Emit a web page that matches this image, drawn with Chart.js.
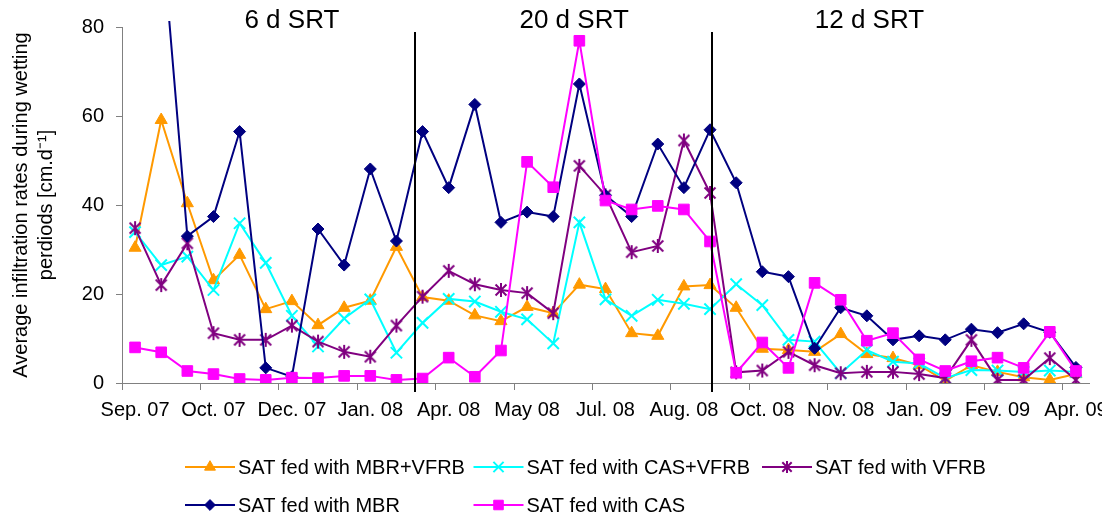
<!DOCTYPE html>
<html>
<head>
<meta charset="utf-8">
<script src="https://cdn.jsdelivr.net/npm/chart.js"></script>
<style>
  html, body { margin: 0; padding: 0; background: #ffffff; overflow: hidden; }
  #wrap { width: 1102px; height: 515px; }
</style>
</head>
<body>
<div id="wrap"><canvas id="c" width="1102" height="515"></canvas></div>
<script>
// Sampling campaigns (37 wetting periods, Sep. 2007 - Apr. 2009)
const samples = [1, 2, 3, 4, 5, 6, 7, 8, 9, 10, 11, 12, 13, 14, 15, 16, 17, 18, 19,
                 20, 21, 22, 23, 24, 25, 26, 27, 28, 29, 30, 31, 32, 33, 34, 35, 36, 37];

// Month labels, one every third campaign
const tickLabels = ['Sep. 07', 'Oct. 07', 'Dec. 07', 'Jan. 08', 'Apr. 08', 'May 08', 'Jul. 08',
                    'Aug. 08', 'Oct. 08', 'Nov. 08', 'Jan. 09', 'Fev. 09', 'Apr. 09'];

// Average infiltration rates [cm/d]
const satMbrVfrb = [30.4, 59.1, 40.4, 23.1, 28.8, 16.6, 18.4, 13.0, 16.9, 18.5, 30.6, 19.3, 18.5,
                    15.2, 13.9, 17.1, 15.7, 22.1, 21.1, 11.2, 10.6, 21.7, 22.0, 16.9, 7.7, 7.4,
                    7.0, 11.0, 6.5, 5.6, 4.0, 0.5, 4.0, 2.5, 1.3, 0.7, 2.0];
const satCasVfrb = [33.9, 26.5, 28.4, 20.9, 35.9, 27.0, 15.1, 8.2, 14.5, 18.8, 6.8, 13.5, 18.9,
                    18.3, 16.0, 14.3, 8.9, 36.1, 18.8, 15.1, 18.7, 17.8, 16.6, 22.2, 17.5, 9.7,
                    9.3, 2.2, 7.4, 4.8, 4.4, 1.1, 2.9, 2.8, 2.5, 2.8, 2.5];
const satVfrb    = [34.8, 22.0, 31.4, 11.2, 9.7, 9.7, 12.9, 9.3, 7.0, 5.9, 12.9, 19.4, 25.2,
                    22.2, 20.9, 20.2, 15.7, 48.8, 42.2, 29.4, 30.8, 54.5, 42.7, 2.4, 2.8, 7.0,
                    4.0, 2.2, 2.5, 2.5, 2.0, 1.1, 9.7, 0.7, 0.7, 5.6, 0.7];
const satMbr     = [null, 103, 33.0, 37.4, 56.5, 3.4, 1.4, 34.6, 26.5, 48.1, 31.9, 56.5, 43.9,
                    62.6, 36.1, 38.4, 37.4, 67.2, 42.2, 37.4, 53.7, 43.9, 56.9, 45.0, 25.0, 23.9,
                    7.8, 16.9, 15.1, 9.7, 10.6, 9.7, 12.1, 11.3, 13.3, 11.4, 3.5];
const satCas     = [8.0, 6.9, 2.7, 2.0, 0.9, 0.7, 1.2, 1.1, 1.6, 1.6, 0.7, 1.0, 5.7,
                    1.4, 7.3, 49.7, 44.0, 76.9, 41.0, 39.0, 39.8, 39.0, 31.8, 2.3, 9.1, 3.4,
                    22.5, 18.7, 9.5, 11.2, 5.3, 2.7, 4.9, 5.7, 3.4, 11.5, 2.7];

// Sludge retention time periods: boundaries and label anchors (category units)
const periodBreaks = [10.7, 22.08];
const periodNames = ['6 d SRT', '20 d SRT', '12 d SRT'];
const periodCenters = [6.0, 16.8, 28.1];

const FONT = '"Liberation Sans", Arial, Helvetica, sans-serif';
Chart.defaults.font.family = FONT;
Chart.defaults.color = '#000000';

function asteriskMark(color, size, lw) {
  const c = document.createElement('canvas');
  c.width = size; c.height = size;
  const g = c.getContext('2d');
  g.strokeStyle = color;
  g.lineWidth = lw;
  const m = size / 2, r = size / 2 - 1, d = r * 0.78;
  g.beginPath();
  g.moveTo(m - d, m - d); g.lineTo(m + d, m + d);
  g.moveTo(m + d, m - d); g.lineTo(m - d, m + d);
  g.moveTo(m, m - r); g.lineTo(m, m + r);
  g.stroke();
  return c;
}

const starBig = asteriskMark('#800080', 16, 2);
const starSmall = asteriskMark('#800080', 14, 2);

const seriesStyle = (color, style, radius, order) => ({
  borderColor: color,
  backgroundColor: color,
  pointBackgroundColor: color,
  pointBorderColor: color,
  pointStyle: style,
  pointRadius: radius,
  pointHoverRadius: radius,
  pointBorderWidth: 1,
  borderWidth: 2,
  tension: 0,
  fill: false,
  order: order
});

const datasets = [
  Object.assign({ label: 'SAT fed with MBR+VFRB', data: satMbrVfrb }, seriesStyle('#FF9900', 'triangle', 7, 4)),
  Object.assign({ label: 'SAT fed with CAS+VFRB', data: satCasVfrb }, seriesStyle('#00FFFF', 'crossRot', 8, 3), { pointBorderWidth: 2 }),
  Object.assign({ label: 'SAT fed with VFRB', data: satVfrb }, seriesStyle('#800080', starBig, 7, 2), { legendStyle: starSmall }),
  Object.assign({ label: 'SAT fed with MBR', data: satMbr }, seriesStyle('#000080', 'rectRot', 6, 1),
                { clip: { left: 5, top: 6, right: 5, bottom: 5 } }),
  Object.assign({ label: 'SAT fed with CAS', data: satCas }, seriesStyle('#FF00FF', 'rect', 7.5, 0))
];

// Vertical period separators and their headings
const periodPlugin = {
  id: 'periods',
  afterDatasetsDraw(chart) {
    const { ctx, chartArea } = chart;
    const x = chart.scales.x;
    ctx.save();
    ctx.strokeStyle = '#000000';
    ctx.lineWidth = 2;
    periodBreaks.forEach(v => {
      const px = Math.round(x.getPixelForValue(v));
      ctx.beginPath();
      ctx.moveTo(px, chartArea.top + 5);
      ctx.lineTo(px, chartArea.bottom + 9);
      ctx.stroke();
    });
    ctx.fillStyle = '#000000';
    ctx.font = '26px ' + FONT;
    ctx.textAlign = 'center';
    ctx.textBaseline = 'middle';
    periodNames.forEach((name, i) => {
      ctx.fillText(name, x.getPixelForValue(periodCenters[i]), 21);
    });
    ctx.restore();
  }
};

// Legend laid out in a three-column grid below the axis
const gridLegendPlugin = {
  id: 'gridLegend',
  afterDraw(chart) {
    const { ctx } = chart;
    const left = 185, colWidth = 288.5, rows = [467, 505], sample = 50;
    ctx.save();
    ctx.font = '20px ' + FONT;
    ctx.textBaseline = 'middle';
    ctx.textAlign = 'left';
    chart.data.datasets.forEach((ds, i) => {
      const col = i % 3, row = Math.floor(i / 3);
      const x0 = left + col * colWidth, y = rows[row];
      ctx.strokeStyle = ds.borderColor;
      ctx.lineWidth = 2;
      ctx.beginPath();
      ctx.moveTo(x0, y);
      ctx.lineTo(x0 + sample, y);
      ctx.stroke();
      ctx.fillStyle = ds.pointBackgroundColor;
      ctx.strokeStyle = ds.pointBorderColor;
      ctx.lineWidth = ds.pointBorderWidth;
      Chart.helpers.drawPoint(ctx, {
        pointStyle: ds.legendStyle || ds.pointStyle,
        radius: ds.pointRadius * 0.9,
        rotation: 0,
        borderWidth: ds.pointBorderWidth
      }, x0 + sample / 2, y);
      ctx.fillStyle = '#000000';
      ctx.fillText(ds.label, x0 + sample + 3, y + 1);
    });
    ctx.restore();
  }
};

new Chart(document.getElementById('c'), {
  type: 'line',
  data: { labels: samples, datasets: datasets },
  options: {
    responsive: false,
    animation: false,
    devicePixelRatio: 1,
    layout: { padding: { top: 27, right: 13, bottom: 0, left: 0 } },
    plugins: {
      legend: { display: false },
      tooltip: { enabled: false }
    },
    scales: {
      x: {
        type: 'category',
        offset: true,
        grid: {
          offset: true,
          drawOnChartArea: false,
          tickLength: 7,
          color: ctx => (ctx.index % 3 === 0 ? '#808080' : 'rgba(0,0,0,0)')
        },
        border: { color: '#808080', width: 1 },
        ticks: {
          autoSkip: false,
          maxRotation: 0,
          minRotation: 0,
          padding: 8,
          color: '#000000',
          font: { size: 20 },
          callback: (value, index) => (index % 3 === 0 ? tickLabels[index / 3] : '')
        },
        afterFit(scale) {
          scale.height = 132;
          scale.paddingLeft = 0;
          scale.paddingRight = 0;
        }
      },
      y: {
        min: 0,
        max: 80,
        grid: { drawOnChartArea: false, tickLength: 6, color: '#808080' },
        border: { color: '#808080', width: 1 },
        ticks: { stepSize: 20, padding: 12, color: '#000000', font: { size: 20 } },
        title: {
          display: true,
          text: ['Average infiltration rates during wetting', 'perdiods [cm.d\u207B\u00B9]'],
          color: '#000000',
          font: { size: 20, lineHeight: 1.25 },
          padding: { top: 9, bottom: 0 }
        },
        afterFit(scale) {
          scale.width = 122;
          scale.paddingTop = 0;
          scale.paddingBottom = 0;
        }
      }
    }
  },
  plugins: [periodPlugin, gridLegendPlugin]
});
</script>
</body>
</html>
